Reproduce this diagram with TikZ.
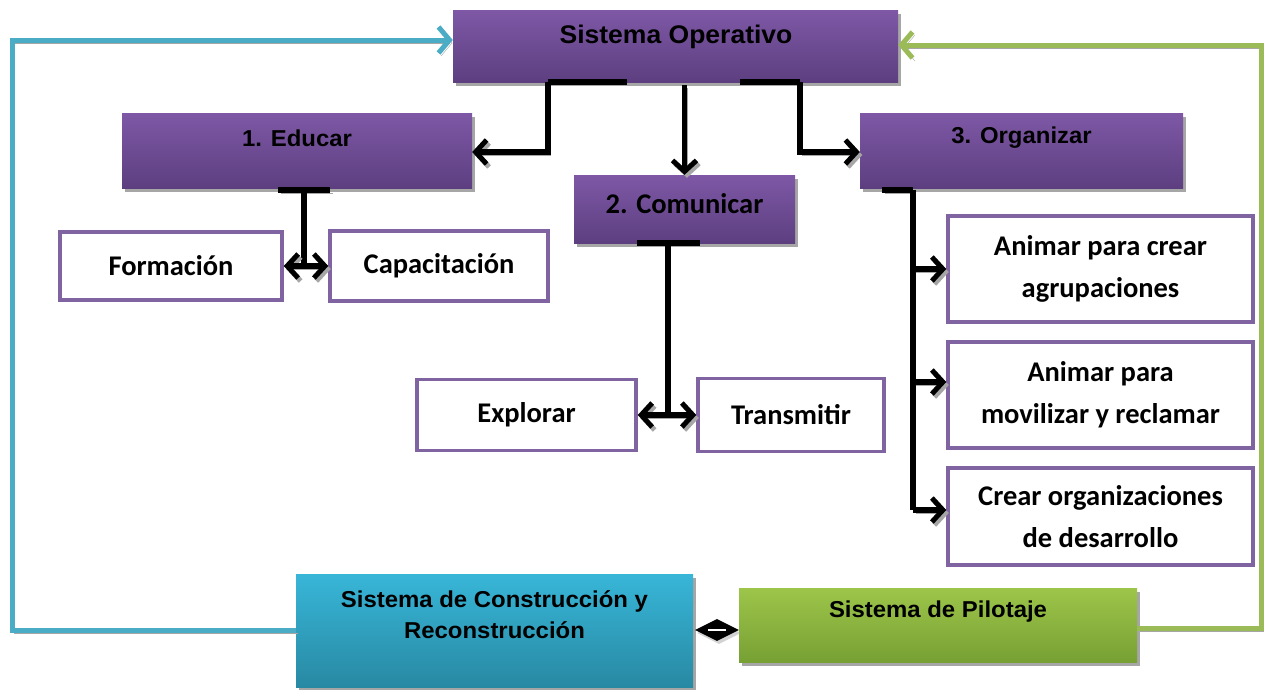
\documentclass[tikz,border=0pt]{standalone}
\usepackage{fontspec}
\usetikzlibrary{arrows.meta,shadows,calc,shapes.geometric}
\newfontfamily\headfont{Liberation Sans}[FakeStretch=1.04]
\newfontfamily\bodyfont{Carlito}
\definecolor{pTop}{HTML}{7E58A6}
\definecolor{pBot}{HTML}{5D3F80}
\definecolor{pBorder}{HTML}{8064A2}
\definecolor{bTop}{HTML}{38B6D8}
\definecolor{bBot}{HTML}{2889A3}
\definecolor{gTop}{HTML}{9DC54A}
\definecolor{gBot}{HTML}{77A034}
\definecolor{bLine}{HTML}{4BACC6}
\definecolor{gLine}{HTML}{9BBB59}
\definecolor{shd}{HTML}{A6A6A6}
\tikzset{
  x=1pt, y=-1pt,
  boxshadow/.style={drop shadow={shadow xshift=3pt, shadow yshift=-4pt, fill=shd, opacity=1}},
  pbox/.style={rectangle, draw=none, top color=pTop, bottom color=pBot, inner sep=0pt, boxshadow},
  bbox/.style={rectangle, draw=none, top color=bTop, bottom color=bBot, inner sep=0pt, boxshadow},
  gbox/.style={rectangle, draw=none, top color=gTop, bottom color=gBot, inner sep=0pt, boxshadow},
  htext/.style={font=\headfont\bfseries\fontsize{23}{31}\selectfont, align=center, inner sep=0pt},
  wbox/.style={rectangle, draw=pBorder, line width=3.5pt, fill=white, align=center, inner sep=0pt,
    font=\bodyfont\bfseries\fontsize{28.5}{42}\selectfont},
  lshadow/.style={preaction={draw=shd, transform canvas={xshift=2.5pt, yshift=-3pt}}},
  blk/.style={draw=black, line width=5.5pt, lshadow},
  barb/.tip={Straight Barb[length=11pt, width=24pt, line width=5pt]},
  tip/.style={-barb},
  dtip/.style={barb-barb},
  bluel/.style={draw=bLine, line width=5pt, lshadow, -{Straight Barb[length=11pt, width=26pt, line width=5pt]}},
  greenl/.style={draw=gLine, line width=5pt, lshadow, -{Straight Barb[length=11pt, width=26pt, line width=5pt]}},
}
\begin{document}
\begin{tikzpicture}
\useasboundingbox (0,0) rectangle (1265,689);

% main boxes
\node[pbox, minimum width=445pt, minimum height=72pt] (so) at (675.5,46) {};
\node[htext, font=\headfont\bfseries\fontsize{25.5}{31}\selectfont] (sot) at (676,37) {Sistema Operativo};
\node[pbox, minimum width=350pt, minimum height=75pt] (edu) at (297,150.5) {};
\node[htext] (edut) at (297,138) {1. Educar};
\node[pbox, minimum width=221pt, minimum height=68pt] (com) at (684.5,209) {};
\node[htext, font=\bodyfont\bfseries\fontsize{28.5}{42}\selectfont] (comt) at (684.5,204) {2. Comunicar};
\node[pbox, minimum width=323pt, minimum height=75pt] (org) at (1021.5,150.5) {};
\node[htext] (orgt) at (1021.5,138) {3. Organizar};

% white boxes
\node[wbox, minimum width=222pt, minimum height=68pt] (form) at (171,266) {Formación};
\node[wbox, minimum width=218pt, minimum height=70pt] (cap) at (439,266) {Capacitación};
\node[wbox, minimum width=219pt, minimum height=71pt] (expl) at (526.5,415) {Explorar};
\node[wbox, minimum width=186pt, minimum height=73pt] (trans) at (791,415) {Transmitir};
\node[wbox, minimum width=305pt, minimum height=106pt] (a1) at (1100.5,269) {Animar para crear\\agrupaciones};
\node[wbox, minimum width=305pt, minimum height=106pt] (a2) at (1100.5,395) {Animar para\\movilizar y reclamar};
\node[wbox, minimum width=305pt, minimum height=97pt] (a3) at (1100.5,516.5) {Crear organizaciones\\de desarrollo};

% bottom boxes
\node[bbox, minimum width=397pt, minimum height=113pt] (con) at (494.5,630.5) {};
\node[htext] (cont) at (494.5,615) {Sistema de Construcción y\\Reconstrucción};
\node[gbox, minimum width=398pt, minimum height=74pt] (pil) at (938,625) {};
\node[htext] (pilt) at (938,612) {Sistema de Pilotaje};

% helper coordinates
\coordinate (sob) at ([yshift=-3pt]so.south);
\coordinate (a2w) at ([yshift=13pt]a2.west);
\coordinate (a3w) at ([yshift=6.5pt]a3.west);

% connectors from Sistema Operativo
\draw[blk] ([xshift=-48.5pt]so.south) -- ([xshift=-127.5pt]so.south);
\draw[blk, tip] ([xshift=-127.5pt]so.south) |- ([yshift=-1.5pt]edu.east);
\draw[blk, tip] (com.north |- sob) -- (com.north);
\draw[blk] ([xshift=64.5pt]so.south) -- ([xshift=124.5pt]so.south);
\draw[blk, tip] ([xshift=124.5pt]so.south) |- ([yshift=-1.5pt]org.west);

% Educar
\draw[blk] ([xshift=-19pt,yshift=-2pt]edu.south) -- ([xshift=33pt,yshift=-2pt]edu.south);
\coordinate (ej) at ([xshift=7pt]edu.south |- form.east);
\draw[blk] ([xshift=7pt]edu.south) -- (ej);
\draw[blk, dtip] (form.east) -- (cap.west);

% Comunicar
\draw[blk] ([xshift=-47.5pt]com.south) -- ([xshift=15.5pt]com.south);
\coordinate (cj) at ([xshift=-16.5pt]com.south |- expl.east);
\draw[blk] ([xshift=-16.5pt]com.south) -- (cj);
\draw[blk, dtip] (expl.east) -- (trans.west);

% Organizar
\coordinate (ot) at ([xshift=-108.5pt,yshift=-2pt]org.south);
\draw[blk] ([xshift=-139.5pt,yshift=-2pt]org.south) -- (ot);
\coordinate (oe) at (ot |- a3w);
\draw[blk] (ot) -- (oe);
\draw[blk, tip] (ot |- a1.west) -- (a1.west);
\draw[blk, tip] (ot |- a2w) -- (a2w);
\draw[blk, tip] (oe) -- (a3w);

% feedback loops
\coordinate (bl) at (12,40);
\draw[bluel] ([yshift=0.5pt]con.west) -| (bl) -- ([yshift=6pt]so.west);
\coordinate (gr) at (1261,45);
\draw[greenl] ([yshift=-3pt]pil.east) -| (gr) -- ([yshift=1pt]so.east);

% diamond between bottom boxes
\node[diamond, fill=black, minimum width=44pt, minimum height=22pt, inner sep=0pt, aspect=2,
  drop shadow={shadow xshift=2pt, shadow yshift=-3pt, fill=shd}] (dia) at (717,630) {};
\draw[white, line width=1.5pt] ([xshift=-9pt]dia.center) -- ([xshift=9pt]dia.center);
\end{tikzpicture}
\end{document}
